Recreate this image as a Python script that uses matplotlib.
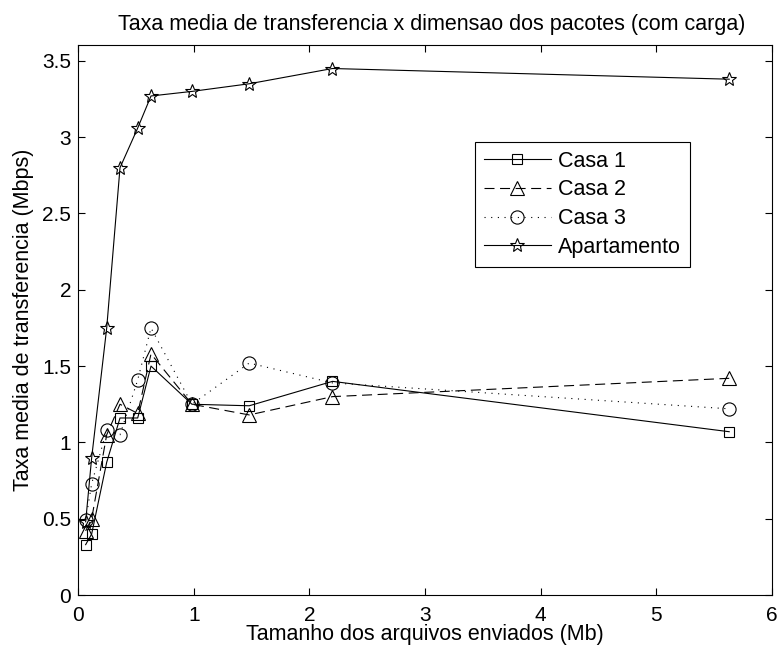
import matplotlib
matplotlib.use("Agg")
import matplotlib.pyplot as plt

# ==========================================
# DATA
# ==========================================
x_sizes = [0.066, 0.118, 0.248, 0.363, 0.516, 0.631, 0.985, 1.48, 2.2, 5.63]

casa1 = [0.33, 0.40, 0.87, 1.16, 1.16, 1.50, 1.25, 1.24, 1.40, 1.07]
casa2 = [0.42, 0.50, 1.05, 1.25, 1.19, 1.58, 1.25, 1.18, 1.30, 1.42]
casa3 = [0.49, 0.73, 1.08, 1.05, 1.41, 1.75, 1.25, 1.52, 1.39, 1.22]
apartamento = [0.48, 0.90, 1.75, 2.80, 3.06, 3.27, 3.30, 3.35, 3.45, 3.38]

series_labels = ["Casa 1", "Casa 2", "Casa 3", "Apartamento"]

x_ticks = [0, 1, 2, 3, 4, 5, 6]
y_ticks = [0, 0.5, 1, 1.5, 2, 2.5, 3, 3.5]
y_tick_labels = ["0", "0.5", "1", "1.5", "2", "2.5", "3", "3.5"]

# ==========================================
# PLOT
# ==========================================
plt.rcParams["font.family"] = ["Liberation Sans", "DejaVu Sans"]

fig = plt.figure(figsize=(7.81, 6.5), dpi=100)
ax = fig.add_axes([0.0999, 0.0846, 0.8886, 0.8462])

lw = 0.8
ax.plot(x_sizes, casa1, color="black", linewidth=lw, linestyle="-",
        marker="s", markersize=7.5, fillstyle="none", markeredgewidth=lw,
        label=series_labels[0])
ax.plot(x_sizes, casa2, color="black", linewidth=lw, linestyle=(0, (9, 5)),
        marker="^", markersize=9.5, fillstyle="none", markeredgewidth=lw,
        label=series_labels[1])
ax.plot(x_sizes, casa3, color="black", linewidth=lw, linestyle=(0, (1, 5)),
        marker="o", markersize=9.5, fillstyle="none", markeredgewidth=lw,
        label=series_labels[2])
ax.plot(x_sizes, apartamento, color="black", linewidth=lw, linestyle="-",
        marker="*", markersize=10, fillstyle="none", markeredgewidth=lw,
        label=series_labels[3])

ax.set_xlim(0, 6)
ax.set_ylim(0, (595 - 45) / 152.6)
ax.set_xticks(x_ticks)
ax.set_yticks(y_ticks)
ax.set_xticklabels([str(t) for t in x_ticks])
ax.set_yticklabels(y_tick_labels)

ax.tick_params(direction="in", top=True, right=True, length=5, width=0.8,
               labelsize=15)
ax.tick_params(axis="x", pad=8)
ax.tick_params(axis="y", pad=5)
for spine in ax.spines.values():
    spine.set_linewidth(0.8)

ax.set_xlabel("Tamanho dos arquivos enviados (Mb)", fontsize=15.5, labelpad=-1)
ax.set_ylabel("Taxa media de transferencia (Mbps)", fontsize=15.5, labelpad=6)
ax.set_title("Taxa media de transferencia x dimensao dos pacotes (com carga)",
             fontsize=15.5, pad=11, x=0.51)

leg = ax.legend(
    loc="upper left",
    bbox_to_anchor=(475 / 781, 1 - 141.7 / 650),
    bbox_transform=fig.transFigure,
    fancybox=False,
    framealpha=1,
    edgecolor="black",
    handlelength=3.1,
    handletextpad=0.35,
    labelspacing=0.36,
    borderpad=0.42,
    borderaxespad=0,
    fontsize=15.5,
)
leg.get_frame().set_linewidth(0.8)

plt.savefig("out.png", dpi=100)
